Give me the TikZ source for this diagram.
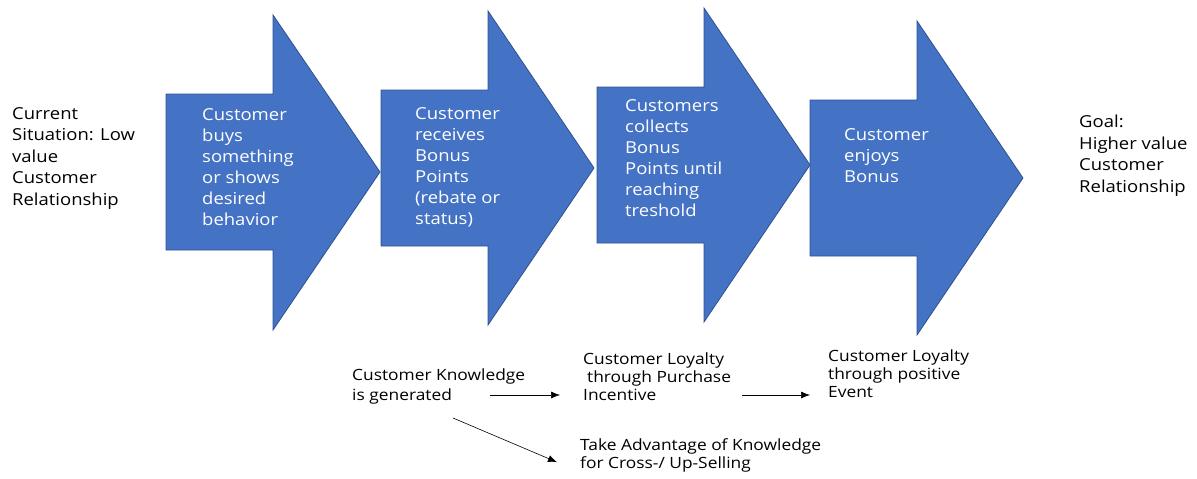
\documentclass[tikz,border=0pt]{standalone}
\usepackage{fontspec}
\setmainfont{Open Sans}[FakeStretch=1.12]
\usepackage{tikz}
\definecolor{myblue}{HTML}{4472C4}
\definecolor{myedge}{HTML}{2F528F}
\tikzset{>=latex}
\usetikzlibrary{arrows.meta}
\tikzset{
  bigarrow/.style={fill=myblue, draw=myedge, line width=0.8pt},
  steptext/.style={anchor=base west, inner sep=0pt, align=left, text=white, font=\fontsize{16.5}{21}\selectfont},
  sidetext/.style={anchor=base west, inner sep=0pt, align=left, font=\fontsize{16.5}{21.5}\selectfont},
  notetext/.style={anchor=base west, inner sep=0pt, align=left, font=\fontsize{15.5}{18}\selectfont},
  conn/.style={-{Latex[length=9pt,width=7pt]}, line width=0.6pt}
}
\begin{document}
\begin{tikzpicture}[x=1pt,y=-1pt]
\useasboundingbox (0,0) rectangle (1197,479);

% Block arrows
\draw[bigarrow] (166,94) -- (273,94) -- (273,15) -- (380,172) -- (273,330) -- (273,250) -- (166,250) -- cycle;
\draw[bigarrow] (381,90) -- (488,90) -- (488,11) -- (594,168) -- (488,325) -- (488,246) -- (381,246) -- cycle;
\draw[bigarrow] (597,87) -- (704,87) -- (704,8) -- (810,165) -- (704,322) -- (704,243) -- (597,243) -- cycle;
\draw[bigarrow] (810,100) -- (917,100) -- (917,21) -- (1023,178) -- (917,335) -- (917,256) -- (810,256) -- cycle;

% Start and goal (positioned at the last baseline)
\node[sidetext] (current) at (12,205) {Current\\Situation: Low\\value\\Customer\\Relationship};
\node[sidetext] (goal) at (1079,192) {Goal:\\Higher value\\Customer\\Relationship};

% Steps
\node[steptext] (buys) at (202,225) {Customer\\buys\\something\\or shows\\desired\\behavior};
\node[steptext] (receives) at (415,224) {Customer\\receives\\Bonus\\Points\\(rebate or\\status)};
\node[steptext] (collects) at (625,216) {Customers\\collects\\Bonus\\Points until\\reaching\\treshold};
\node[steptext] (enjoys) at (844,182) {Customer\\enjoys\\Bonus};

% Effects
\node[notetext, font=\fontsize{15.5}{20}\selectfont] (knowledge) at (352,400) {Customer Knowledge\\is generated};
\node[notetext] (loyalty1) at (583,400) {Customer Loyalty\\\hspace{4pt}through Purchase\\Incentive};
\node[notetext] (loyalty2) at (828,397) {Customer Loyalty\\through positive\\Event};
\node[notetext] (advantage) at (580,468) {Take Advantage of Knowledge\\for Cross-/ Up-Selling};

% Connectors
\coordinate (kstart) at (490,395);
\coordinate (lstart) at (742,395);
\coordinate (dstart) at (453,418);
\draw[conn, shorten >=23pt] (kstart) -- (kstart -| loyalty1.west);
\draw[conn, shorten >=18pt] (lstart) -- (lstart -| loyalty2.west);
\draw[conn, shorten >=25pt] (dstart) -- (advantage.south west);

\end{tikzpicture}
\end{document}
